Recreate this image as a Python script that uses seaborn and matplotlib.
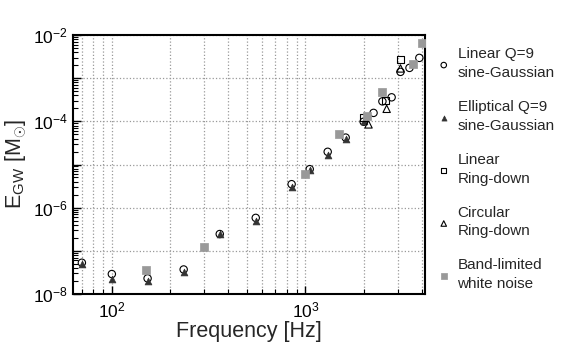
import numpy as np
import pandas as pd
import matplotlib
matplotlib.use("Agg")
import matplotlib.pyplot as plt
import matplotlib.ticker as mticker
import seaborn as sns

# ---- data ----
lin_sg_f = [70, 100, 153, 235, 361, 554, 849, 1053, 1304, 1615, 2000, 2250, 2500, 2790, 3100, 3450, 3880]
lin_sg_e = [5.3e-8, 2.9e-8, 2.3e-8, 3.7e-8, 2.45e-7, 5.8e-7, 3.5e-6, 7.8e-6, 1.97e-5, 4.2e-5,
            9.8e-5, 1.57e-4, 2.9e-4, 3.6e-4, 1.4e-3, 1.73e-3, 2.95e-3]

ell_sg_f = [70, 100, 153, 235, 361, 554, 849, 1053, 1304, 1615, 2000]
ell_sg_e = [4.9e-8, 2.2e-8, 2.0e-8, 3.3e-8, 2.4e-7, 5.0e-7, 3.0e-6, 7.6e-6, 1.7e-5, 3.8e-5, 1.0e-4]

lin_rd_f = [2000, 2580, 3100]
lin_rd_e = [1.23e-4, 2.97e-4, 2.7e-3]

circ_rd_f = [2120, 2630, 3100]
circ_rd_e = [8.5e-5, 1.95e-4, 1.68e-3]

wn_f = [150, 300, 1000, 1500, 2090, 2500, 3600, 4000]
wn_e = [3.6e-8, 1.24e-7, 6.0e-6, 5.1e-5, 1.34e-4, 4.8e-4, 2.1e-3, 6.7e-3]

labels = ["Linear Q=9\nsine-Gaussian", "Elliptical Q=9\nsine-Gaussian",
          "Linear\nRing-down", "Circular\nRing-down", "Band-limited\nwhite noise"]

sns.set_style("ticks")
plt.rcParams["font.family"] = ["Liberation Sans", "DejaVu Sans"]
plt.rcParams["mathtext.fontset"] = "custom"
plt.rcParams["mathtext.rm"] = "Liberation Sans"
plt.rcParams["mathtext.it"] = "Liberation Sans:italic"

fig = plt.figure(figsize=(5.67, 3.54), dpi=100)
ax = fig.add_axes([73 / 567, 60 / 354, (425 - 73) / 567, (294 - 35) / 354])

series = [
    (lin_sg_f, lin_sg_e, dict(marker="o", facecolor="none", edgecolor="black", linewidth=0.8, s=28)),
    (ell_sg_f, ell_sg_e, dict(marker="^", color="#333333", edgecolor="#333333", linewidth=0.5, s=24)),
    (lin_rd_f, lin_rd_e, dict(marker="s", facecolor="none", edgecolor="black", linewidth=0.8, s=26)),
    (circ_rd_f, circ_rd_e, dict(marker="^", facecolor="none", edgecolor="black", linewidth=0.8, s=28)),
    (wn_f, wn_e, dict(marker="s", color="#999999", edgecolor="#999999", linewidth=0.5, s=26)),
]

for (f, e, kw), lab in zip(series, labels):
    df = pd.DataFrame({"f": f, "E": e})
    sns.scatterplot(data=df, x="f", y="E", ax=ax, label=lab, zorder=3, **kw)

ax.set_xscale("log")
ax.set_yscale("log")
ax.set_xlim(63, 4150)
ax.set_ylim(1e-8, 1e-2)

ax.xaxis.set_major_locator(mticker.FixedLocator([100, 1000]))
ax.xaxis.set_major_formatter(mticker.FixedFormatter([r"$10^2$", r"$10^3$"]))
ax.xaxis.set_minor_locator(mticker.LogLocator(base=10, subs=np.arange(2, 10), numticks=20))
ax.xaxis.set_minor_formatter(mticker.NullFormatter())

ax.yaxis.set_major_locator(mticker.LogLocator(base=10, numticks=20))
ax.yaxis.set_major_formatter(mticker.FuncFormatter(
    lambda v, p: (r"$10^{%d}$" % int(round(np.log10(v)))) if int(round(np.log10(v))) % 2 == 0 else ""))
ax.yaxis.set_minor_locator(mticker.LogLocator(base=10, subs=np.arange(2, 10), numticks=20))
ax.yaxis.set_minor_formatter(mticker.NullFormatter())

ax.grid(True, which="major", axis="both", color="#999999", linestyle=":", linewidth=0.9)
ax.grid(True, which="minor", axis="x", color="#999999", linestyle=":", linewidth=0.9)

ax.tick_params(which="both", direction="in", top=False, right=False, labelsize=12.5, colors="black")
ax.tick_params(which="major", length=6, width=1)
ax.tick_params(which="minor", length=3.5, width=0.8)
ax.tick_params(axis="x", which="major", pad=5)
for sp in ax.spines.values():
    sp.set_linewidth(1.5)
    sp.set_color("black")
    sp.set_visible(True)

ax.set_xlabel("Frequency [Hz]", fontsize=15.5, labelpad=0)
ax.set_ylabel(r"E$_{\mathrm{GW}}$ [M$_{\odot}$]", fontsize=15.5, labelpad=3)

leg = ax.legend(loc="upper left", bbox_to_anchor=(430 / 567, 1 - 41 / 354), bbox_transform=fig.transFigure,
                frameon=False, fontsize=11, labelspacing=1.3, handletextpad=0.4, markerscale=0.75,
                handlelength=1.0, borderaxespad=0)
for t in leg.get_texts():
    t.set_linespacing(1.45)

fig.savefig("out.png", dpi=100)
